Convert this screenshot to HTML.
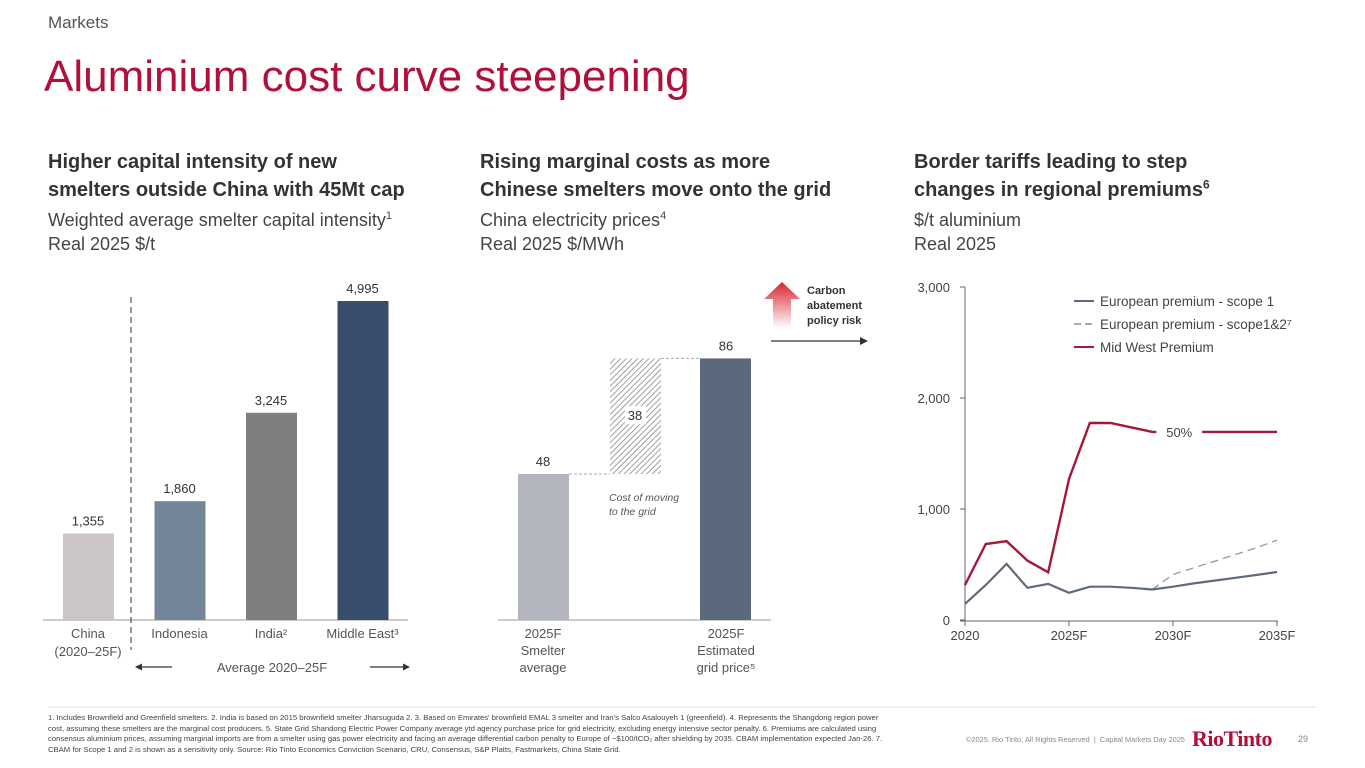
<!DOCTYPE html>
<html><head><meta charset="utf-8"><style>
body{margin:0;width:1365px;height:768px;background:#fff;font-family:"Liberation Sans",sans-serif;overflow:hidden;position:relative}
.t{position:absolute;white-space:nowrap}
sup{line-height:0}
</style></head><body>
<div class="t" style="left:48px;top:13px;font-size:17px;color:#555">Markets</div>
<div class="t" style="left:44px;top:52px;font-size:44px;color:#b0103a">Aluminium cost curve steepening</div>
<div class="t" style="left:48px;top:148px;font-size:20px;font-weight:bold;color:#333;line-height:28px">Higher capital intensity of new<br>smelters outside China with 45Mt cap</div>
<div class="t" style="left:48px;top:208px;font-size:18px;color:#444;line-height:24px">Weighted average smelter capital intensity<sup style="font-size:11px">1</sup><br>Real 2025 $/t</div>
<div class="t" style="left:480px;top:148px;font-size:20px;font-weight:bold;color:#333;line-height:28px">Rising marginal costs as more<br>Chinese smelters move onto the grid</div>
<div class="t" style="left:480px;top:208px;font-size:18px;color:#444;line-height:24px">China electricity prices<sup style="font-size:11px">4</sup><br>Real 2025 $/MWh</div>
<div class="t" style="left:914px;top:148px;font-size:20px;font-weight:bold;color:#333;line-height:28px">Border tariffs leading to step<br>changes in regional premiums<sup style="font-size:12px">6</sup></div>
<div class="t" style="left:914px;top:208px;font-size:18px;color:#444;line-height:24px">$/t aluminium<br>Real 2025</div>

<svg id="c" width="1365" height="768" style="position:absolute;left:0;top:0" font-family="Liberation Sans, sans-serif">
<defs>
<pattern id="hatch" width="4" height="4" patternUnits="userSpaceOnUse" patternTransform="rotate(45)"><rect width="4" height="4" fill="#fff"/><line x1="0" y1="0" x2="0" y2="4" stroke="#888" stroke-width="1.6"/></pattern>
<linearGradient id="ag" x1="0" y1="0" x2="0" y2="1"><stop offset="0" stop-color="#d8242e"/><stop offset="1" stop-color="#fff"/></linearGradient>
</defs>
<line x1="48" y1="707" x2="1317" y2="707" stroke="#e2e2e2"/>
</svg>

<div class="t" style="left:48px;top:713px;font-size:7.7px;color:#444;line-height:10.6px;white-space:normal;width:835px">1. Includes Brownfield and Greenfield smelters. 2. India is based on 2015 brownfield smelter Jharsuguda 2. 3. Based on Emirates' brownfield EMAL 3 smelter and Iran's Salco Asalouyeh 1 (greenfield). 4. Represents the Shangdong region power cost, assuming these smelters are the marginal cost producers. 5. State Grid Shandong Electric Power Company average ytd agency purchase price for grid electricity, excluding energy intensive sector penalty. 6. Premiums are calculated using consensus aluminium prices, assuming marginal imports are from a smelter using gas power electricity and facing an average differential carbon penalty to Europe of ~$100/tCO₂ after shielding by 2035. CBAM implementation expected Jan-26. 7. CBAM for Scope 1 and 2 is shown as a sensitivity only. Source: Rio Tinto Economics Conviction Scenario, CRU, Consensus, S&amp;P Platts, Fastmarkets, China State Grid.</div>
<div class="t" style="left:966px;top:735px;font-size:7.4px;color:#888">©2025, Rio Tinto, All Rights Reserved &nbsp;|&nbsp; Capital Markets Day 2025</div>
<div class="t" style="left:1192px;top:726px;font-size:22px;color:#b0103a;font-family:'Liberation Serif',serif;font-weight:bold;letter-spacing:-0.5px">RioTinto</div>
<div class="t" style="left:1298px;top:734px;font-size:9px;color:#888">29</div>

<script>
const capCats=["China","Indonesia","India","Middle East"];
const capVals=[1355,1860,3245,4995];
const elecCats=["2025F Smelter average","Cost of moving to the grid","2025F Estimated grid price"];
const elecVals=[48,38,86];
const years=[2020,2021,2022,2023,2024,2025,2026,2027,2028,2029,2030,2031,2032,2033,2034,2035];
const midWest=[315,685,710,535,430,1270,1775,1775,1735,1695,1695,1695,1695,1695,1695,1695];
const euScope1=[145,315,505,290,325,245,300,300,290,275,300,330,355,380,405,432];
const euScope12=[null,null,null,null,null,null,null,null,null,275,410,470,530,590,650,720];
const yTicks=[0,1000,2000,3000];
const xTickYears=[2020,2025,2030,2035];
const xTickLabels=["2020","2025F","2030F","2035F"];

const svg=document.getElementById('c');
const NS='http://www.w3.org/2000/svg';
function mk(tag,attrs,parent){const e=document.createElementNS(NS,tag);for(const k in attrs)e.setAttribute(k,attrs[k]);(parent||svg).appendChild(e);return e;}
function txt(x,y,s,attrs){const e=mk('text',Object.assign({x:x,y:y,'font-size':13,fill:'#333','text-anchor':'middle'},attrs||{}));e.textContent=s;return e;}

// LEFT chart
const base=620;
const lyScale=v=>base-v*319/4995;
const lx=i=>88+i*91.5;
const capColors=["#cbc5c6","#738598","#7f7f7f","#384c6c"];
let e=mk('line',{x1:43,y1:620,x2:408,y2:620,stroke:'#999','stroke-width':1});

e=mk('line',{x1:131,y1:297,x2:131,y2:650,stroke:'#333','stroke-width':1,'stroke-dasharray':'6,4'});

capVals.forEach((v,i)=>{
 const b=mk('rect',{x:lx(i)-25,y:lyScale(v),width:51,height:base-lyScale(v),fill:capColors[i]});
 
 
 const l=txt(lx(i),lyScale(v)-8,v.toLocaleString('en-US'));
 
});
const capLab=[["China","(2020–25F)"],["Indonesia"],["India²"],["Middle East³"]];
capLab.forEach((ls,i)=>ls.forEach((s,j)=>{const t=txt(lx(i),638+j*18,s,{fill:'#555'});}));
e=txt(272,672,"Average 2020–25F",{fill:'#555'});
mk('line',{x1:172,y1:667,x2:138,y2:667,stroke:'#333','stroke-width':1.3});mk('path',{d:'M135 667 l7 -3.5 v7z',fill:'#333'});
mk('line',{x1:370,y1:667,x2:406,y2:667,stroke:'#333','stroke-width':1.3});mk('path',{d:'M410 667 l-7 -3.5 v7z',fill:'#333'});

// MIDDLE chart
const my=v=>base-v*146/48;
e=mk('line',{x1:498,y1:620,x2:771,y2:620,stroke:'#999'});

const b0=mk('rect',{x:518,y:my(elecVals[0]),width:51,height:base-my(elecVals[0]),fill:'#b3b6be'});

const hb=mk('rect',{x:610,y:my(elecVals[0]+elecVals[1]),width:51,height:my(elecVals[0])-my(elecVals[0]+elecVals[1]),fill:'url(#hatch)'});

const b2=mk('rect',{x:700,y:my(elecVals[2]),width:51,height:base-my(elecVals[2]),fill:'#5a6a7c'});

mk('line',{x1:569,y1:my(elecVals[0]),x2:610,y2:my(elecVals[0]),stroke:'#aaa','stroke-dasharray':'3,2'});
mk('line',{x1:661,y1:my(elecVals[2]),x2:700,y2:my(elecVals[2]),stroke:'#aaa','stroke-dasharray':'3,2'});
e=txt(543,my(elecVals[0])-8,String(elecVals[0]));
e=txt(726,my(elecVals[2])-8,String(elecVals[2]));
mk('rect',{x:625,y:my(elecVals[0]+elecVals[1]/2)-10,width:21,height:18,fill:'#fff'});
e=txt(635,my(elecVals[0]+elecVals[1]/2)+4,String(elecVals[1]));
e=txt(609,501,"Cost of moving",{'font-size':10.5,'font-style':'italic','text-anchor':'start',fill:'#555'});
txt(609,515,"to the grid",{'font-size':10.5,'font-style':'italic','text-anchor':'start',fill:'#555'});
[["2025F","Smelter","average",543],["2025F","Estimated","grid price⁵",726]].forEach(a=>{for(let j=0;j<3;j++){const t=txt(a[3],638+j*17,a[j],{fill:'#555'});}});
e=mk('path',{d:'M764 299 L782 282 L800 299 L791 299 L791 328 L773 328 L773 299Z',fill:'url(#ag)'});

['Carbon','abatement','policy risk'].forEach((s,j)=>{const t=txt(807,294+j*15,s,{'font-size':11,'font-weight':'bold','text-anchor':'start'});});
mk('line',{x1:771,y1:341,x2:862,y2:341,stroke:'#333','stroke-width':1.2});mk('path',{d:'M868 341 l-8 -4 v8z',fill:'#333'});

// RIGHT chart
const rx=y=>965+(y-2020)*312/15;
const ry=v=>620-v*333/3000;
e=mk('line',{x1:965,y1:287,x2:965,y2:621,stroke:'#666'});
e=mk('line',{x1:960,y1:621,x2:1278,y2:621,stroke:'#666'});
yTicks.forEach(v=>{mk('line',{x1:960,y1:ry(v),x2:965,y2:ry(v),stroke:'#666'});const t=txt(950,ry(v)+5,v.toLocaleString('en-US'),{'text-anchor':'end',fill:'#444'});});
xTickYears.forEach((y,i)=>{mk('line',{x1:rx(y),y1:621,x2:rx(y),y2:626,stroke:'#666'});const t=txt(rx(y),640,xTickLabels[i],{fill:'#444'});});
function pathOf(arr){let d='';arr.forEach((v,i)=>{if(v==null)return;d+=(d?'L':'M')+rx(years[i]).toFixed(1)+' '+ry(v).toFixed(1);});return d;}
e=mk('path',{d:pathOf(euScope12),fill:'none',stroke:'#999','stroke-width':1.3,'stroke-dasharray':'8,5'});
e=mk('path',{d:pathOf(euScope1),fill:'none',stroke:'#5f6b7d','stroke-width':2.2});
e=mk('path',{d:pathOf(midWest),fill:'none',stroke:'#a31939','stroke-width':2.4});
mk('rect',{x:rx(2029.2),y:ry(1695)-12,width:rx(2031.4)-rx(2029.2),height:24,fill:'#fff'});
e=txt((rx(2029.2)+rx(2031.4))/2,ry(1695)+5,"50%",{fill:'#444'});
const leg=[["European premium - scope 1","#5f6b7d",""],["European premium - scope1&2⁷","#aaa","7,4"],["Mid West Premium","#a31939",""]];
leg.forEach((l,i)=>{const y=301+i*23;mk('line',{x1:1074,y1:y,x2:1094,y2:y,stroke:l[1],'stroke-width':2,'stroke-dasharray':l[2]});const t=txt(1100,y+5,l[0],{'text-anchor':'start',fill:'#444','font-size':13.5});});
</script>
</body></html>
